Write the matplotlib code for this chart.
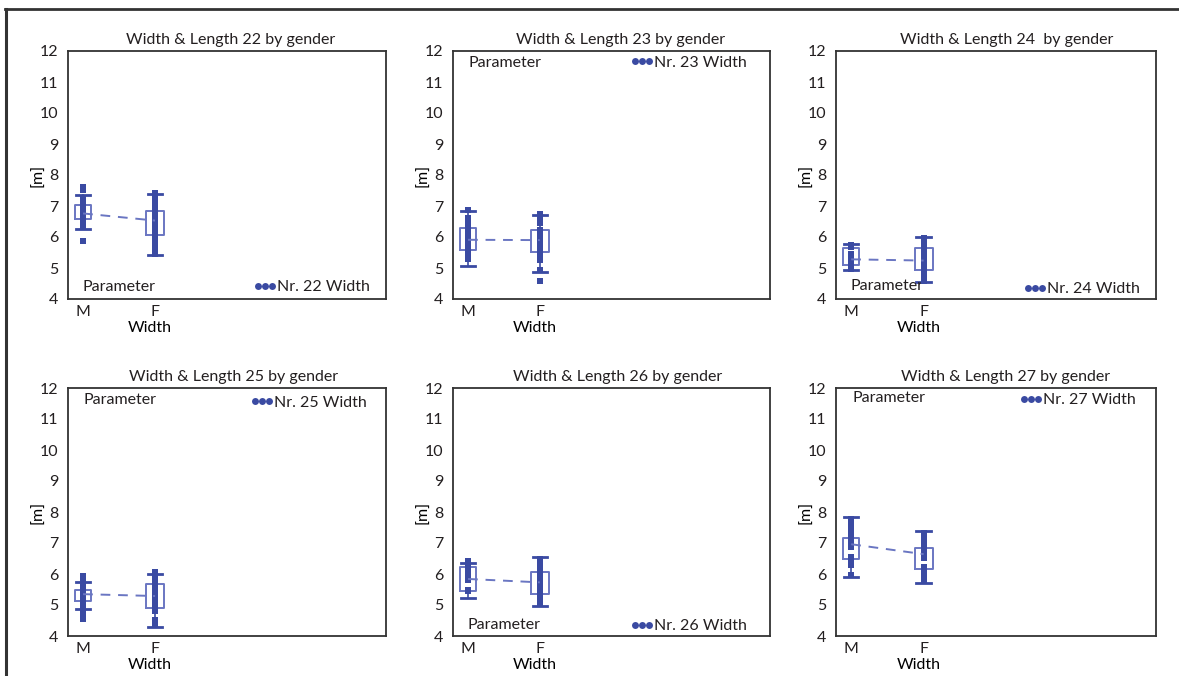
import matplotlib
matplotlib.use("Agg")
import matplotlib.pyplot as plt
from matplotlib.lines import Line2D

plt.rcParams['font.family'] = ['Lato', 'DejaVu Sans']
plt.rcParams['text.color'] = '#231f20'

# known information
genders = ['M', 'F']
panel_nrs = [22, 23, 24, 25, 26, 27]
titles = ['Width & Length 22 by gender', 'Width & Length 23 by gender',
          'Width & Length 24  by gender', 'Width & Length 25 by gender',
          'Width & Length 26 by gender', 'Width & Length 27 by gender']
yticks = [4, 5, 6, 7, 8, 9, 10, 11, 12]

# box stats: whislo, q1, med, q3, whishi
m_box_22 = [6.26, 6.58, 6.76, 7.03, 7.35]
f_box_22 = [5.42, 6.05, 6.53, 6.85, 7.40]
m_box_23 = [5.06, 5.57, 5.91, 6.28, 6.85]
f_box_23 = [4.87, 5.51, 5.90, 6.23, 6.71]
m_box_24 = [4.94, 5.10, 5.28, 5.64, 5.77]
f_box_24 = [4.56, 4.94, 5.24, 5.64, 6.00]
m_box_25 = [4.86, 5.13, 5.35, 5.48, 5.75]
f_box_25 = [4.30, 4.89, 5.29, 5.67, 6.00]
m_box_26 = [5.24, 5.44, 5.84, 6.24, 6.35]
f_box_26 = [4.98, 5.34, 5.73, 6.05, 6.56]
m_box_27 = [5.89, 6.47, 6.96, 7.15, 7.85]
f_box_27 = [5.72, 6.15, 6.64, 6.85, 7.40]

# single measurements
m_pts_22 = [7.62, 7.52, 7.24, 7.14, 7.04, 6.94, 6.84, 6.74, 6.64, 6.54, 6.48, 6.33, 5.87]
f_pts_22 = [7.42, 7.31, 7.19, 7.07, 6.95, 6.83, 6.71, 6.59, 6.47, 6.36, 6.24, 6.12,
            6.00, 5.88, 5.76, 5.64, 5.52, 5.44]
m_pts_23 = [6.86, 6.62, 6.52, 6.42, 6.32, 6.22, 6.12, 6.02, 5.92, 5.82, 5.64, 5.52,
            5.44, 5.29]
f_pts_23 = [6.74, 6.64, 6.56, 6.44, 6.22, 6.12, 6.02, 5.92, 5.82, 5.72, 5.62, 5.52,
            5.42, 5.33, 5.27, 4.95, 4.59]
m_pts_24 = [5.75, 5.68, 5.45, 5.37, 5.29, 5.21, 5.13, 5.05, 4.97]
f_pts_24 = [5.98, 5.88, 5.78, 5.68, 5.58, 5.48, 5.38, 5.28, 5.18, 5.08, 4.98, 4.88,
            4.78, 4.68, 4.58]
m_pts_25 = [5.92, 5.82, 5.72, 5.62, 5.52, 5.42, 5.32, 5.22, 5.12, 5.02, 4.92, 4.82,
            4.72, 4.62, 4.54]
f_pts_25 = [6.05, 5.95, 5.85, 5.75, 5.65, 5.55, 5.45, 5.35, 5.25, 5.15, 5.05, 4.95,
            4.85, 4.80, 4.52, 4.42, 4.34]
m_pts_26 = [6.42, 6.32, 6.22, 6.12, 6.02, 5.92, 5.82, 5.50, 5.46]
f_pts_26 = [6.50, 6.40, 6.30, 6.20, 6.10, 6.00, 5.90, 5.80, 5.70, 5.60, 5.50, 5.40,
            5.30, 5.20, 5.10, 5.04]
m_pts_27 = [7.78, 7.68, 7.58, 7.48, 7.38, 7.28, 7.18, 7.08, 6.98, 6.88, 6.56, 6.46,
            6.36, 6.29, 5.96]
f_pts_27 = [7.33, 7.23, 7.13, 7.03, 6.93, 6.83, 6.73, 6.63, 6.51, 6.24, 6.14, 6.04,
            5.97, 5.82]

m_boxes = [m_box_22, m_box_23, m_box_24, m_box_25, m_box_26, m_box_27]
f_boxes = [f_box_22, f_box_23, f_box_24, f_box_25, f_box_26, f_box_27]
m_points = [m_pts_22, m_pts_23, m_pts_24, m_pts_25, m_pts_26, m_pts_27]
f_points = [f_pts_22, f_pts_23, f_pts_24, f_pts_25, f_pts_26, f_pts_27]

# layout (pixels of a 1179x676 picture)
W, H = 1179, 676
col_left = [68, 453, 836]
col_width = [318, 317, 320]
row_bottom = [299, 636]
ax_h = 248
# where "Parameter" and the legend sit, in axes fractions
param_pos = [(0.047, 0.048), (0.05, 0.952), (0.044, 0.052),
             (0.05, 0.952), (0.047, 0.044), (0.053, 0.958)]
leg_pos = [(0.95, 0.048), (0.927, 0.952), (0.95, 0.04),
           (0.94, 0.94), (0.927, 0.04), (0.9375, 0.95)]
title_x = [0.51, 0.53, 0.534, 0.52, 0.52, 0.53]

dark = '#3a4aa2'
light = '#6a76c2'
fs = 11.5

fig = plt.figure(figsize=(W / 100, H / 100), dpi=100)

# outer frame (top and left only)
fig.add_artist(Line2D([5 / W, 1], [1 - 8.7 / H, 1 - 8.7 / H], transform=fig.transFigure,
                      color='#333333', lw=2))
fig.add_artist(Line2D([6.3 / W, 6.3 / W], [0, 1 - 8.7 / H], transform=fig.transFigure,
                      color='#333333', lw=2.2))


def make_stats(v):
    return {'whislo': v[0], 'q1': v[1], 'med': v[2], 'q3': v[3], 'whishi': v[4]}


for i in range(6):
    r, c = divmod(i, 3)
    ax = fig.add_axes([col_left[c] / W, (H - row_bottom[r]) / H,
                       col_width[c] / W, ax_h / H])
    ax.bxp([make_stats(m_boxes[i]), make_stats(f_boxes[i])], positions=[0, 1],
           widths=[0.22, 0.25], capwidths=[0.2, 0.2], showfliers=False,
           boxprops=dict(color=light, lw=1.4),
           whiskerprops=dict(color=dark, lw=1.2),
           capprops=dict(color=dark, lw=2),
           medianprops=dict(linestyle='none'))
    ax.plot([0] * len(m_points[i]), m_points[i], 's', color=dark, ms=4.8, mew=0, zorder=4)
    ax.plot([1] * len(f_points[i]), f_points[i], 's', color=dark, ms=4.8, mew=0, zorder=4)
    ax.plot([0, 1], [m_boxes[i][2], f_boxes[i][2]], color=light, lw=1.4,
            linestyle=(0, (5, 4)), zorder=5)

    ax.set_xlim(-0.21, 4.21)
    ax.set_ylim(4, 12)
    ax.set_yticks(yticks)
    ax.set_xticks([0, 1])
    ax.set_xticklabels(genders)
    ax.tick_params(length=0, labelsize=fs, colors='#231f20')
    ax.tick_params(axis='y', pad=7)
    ax.tick_params(axis='x', pad=4)
    for s in ax.spines.values():
        s.set_color('#333333')
        s.set_linewidth(1.3)

    ax.set_title(titles[i], fontsize=fs, x=title_x[i], pad=5)
    ax.set_ylabel('[m]', fontsize=fs)
    ax.yaxis.set_label_coords(-0.072, 0.5)
    ax.set_xlabel('Width', fontsize=fs, labelpad=0)
    ax.xaxis.set_label_coords(0.258, -0.088)

    ax.text(param_pos[i][0], param_pos[i][1], 'Parameter', transform=ax.transAxes,
            fontsize=fs, ha='left', va='center')
    h = Line2D([], [], marker='o', ls='none', color=dark, ms=5, mew=0)
    ax.legend([h], ['Nr. %d Width' % panel_nrs[i]], numpoints=3, handlelength=1.5,
              handletextpad=0.0, frameon=False, fontsize=fs, loc='center right',
              bbox_to_anchor=leg_pos[i], borderpad=0, borderaxespad=0)

plt.savefig('out.png', dpi=100)
